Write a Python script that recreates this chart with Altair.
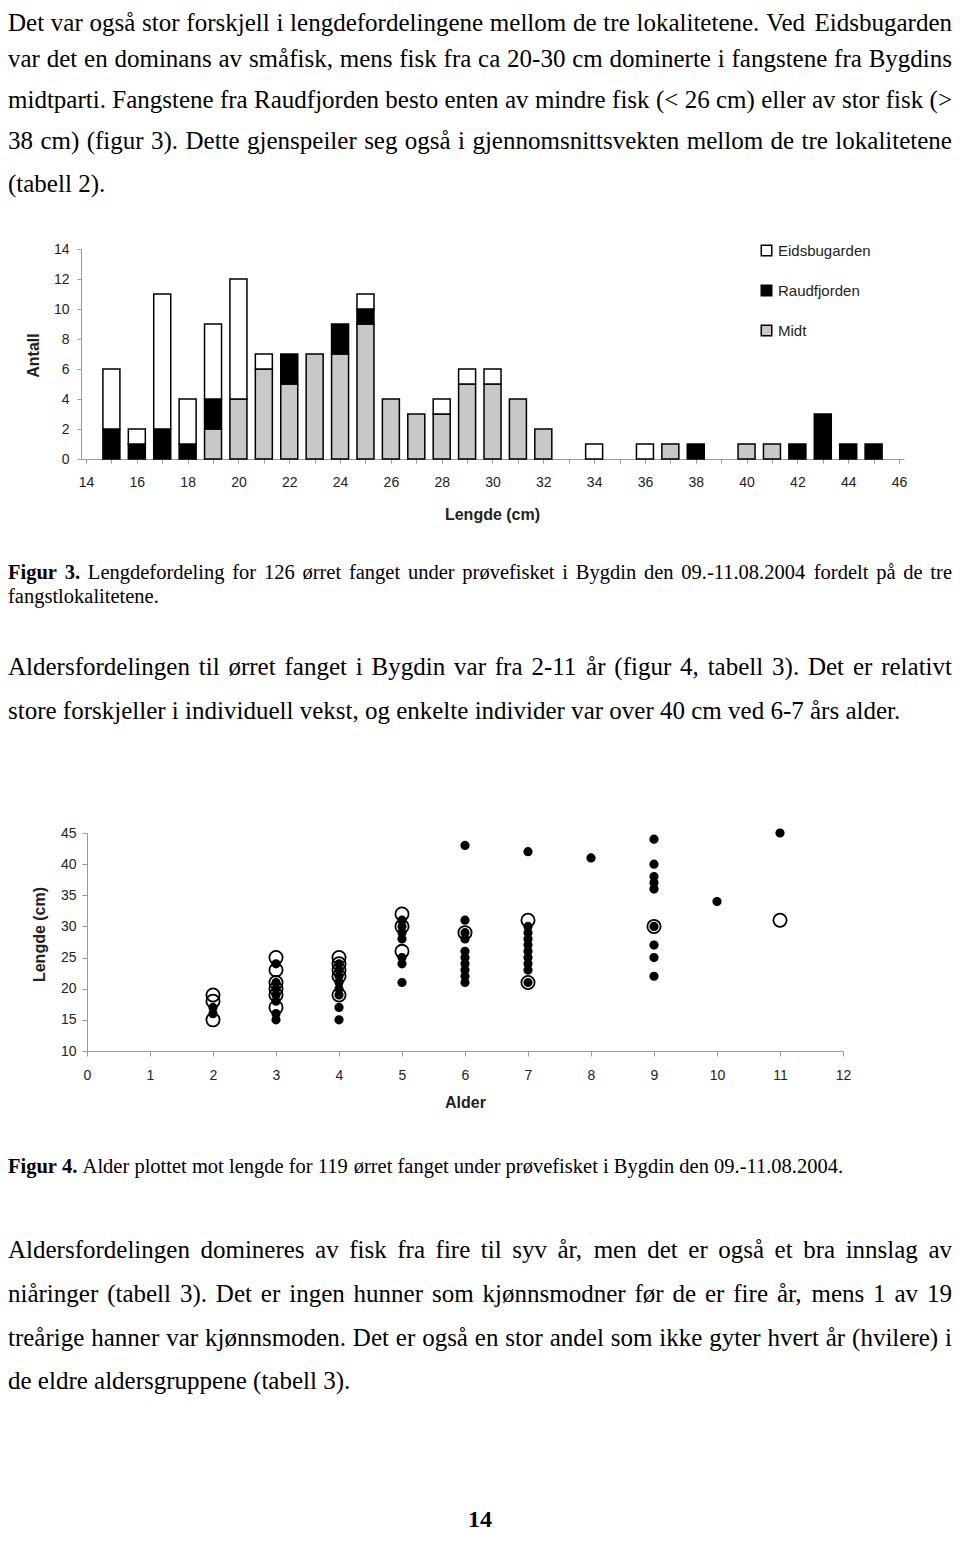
import altair as alt
import pandas as pd

# ------------------------------------------------------------------ data
# Figure 3: length distribution (cm) per locality
lengths = list(range(15, 46))
eidsbugarden = [4, 1, 9, 3, 5, 8, 1, 0, 0, 0, 1, 0, 0, 1, 1, 1, 0, 0, 0, 1, 0, 1, 0, 0, 0, 0, 0, 0, 0, 0, 0]
raudfjorden = [2, 1, 2, 1, 2, 0, 0, 2, 0, 2, 1, 0, 0, 0, 0, 0, 0, 0, 0, 0, 0, 0, 0, 1, 0, 0, 0, 1, 3, 1, 1]
midt = [0, 0, 0, 0, 2, 4, 6, 5, 7, 7, 9, 4, 3, 3, 5, 5, 4, 2, 0, 0, 0, 0, 1, 0, 0, 1, 1, 0, 0, 0, 0]
localities = ["Eidsbugarden", "Raudfjorden", "Midt"]

# Figure 4: age vs length
merket_age = [2, 2, 2, 3, 3, 3, 3, 3, 3, 4, 4, 4, 4, 4, 5, 5, 5, 6, 7, 7, 9, 11]
merket_len = [15, 18, 19, 25, 23, 21, 20, 19, 17, 25, 24, 23, 22, 19, 32, 30, 26, 29, 31, 21, 30, 31]
umerket_age = [2, 2,
               3, 3, 3, 3, 3, 3, 3,
               4, 4, 4, 4, 4, 4, 4, 4,
               5, 5, 5, 5, 5, 5, 5,
               6, 6, 6, 6, 6, 6, 6, 6, 6, 6,
               7, 7, 7, 7, 7, 7, 7, 7, 7, 7,
               8,
               9, 9, 9, 9, 9, 9, 9, 9, 9,
               10, 11]
umerket_len = [16, 17,
               24, 21, 20, 19, 18, 16, 15,
               24, 23, 22, 21, 20, 19, 17, 15,
               31, 30, 29, 28, 25, 24, 21,
               43, 31, 29, 28, 26, 25, 24, 23, 22, 21,
               42, 30, 29, 28, 27, 26, 25, 24, 23, 21,
               41,
               44, 40, 38, 37, 36, 30, 27, 25, 22,
               34, 45]

# Text of the page
para1 = [
    "Det var også stor forskjell i lengdefordelingene mellom de tre lokalitetene. Ved Eidsbugarden",
    "var det en dominans av småfisk, mens fisk fra ca 20-30 cm dominerte i fangstene fra Bygdins",
    "midtparti. Fangstene fra Raudfjorden besto enten av mindre fisk (< 26 cm) eller av stor fisk (>",
    "38 cm) (figur 3). Dette gjenspeiler seg også i gjennomsnittsvekten mellom de tre lokalitetene",
    "(tabell 2).",
]
caption3 = [
    "Figur 3. Lengdefordeling for 126 ørret fanget under prøvefisket i Bygdin den 09.-11.08.2004 fordelt på de tre",
    "fangstlokalitetene.",
]
para2 = [
    "Aldersfordelingen til ørret fanget i Bygdin var fra 2-11 år (figur 4, tabell 3). Det er relativt",
    "store forskjeller i individuell vekst, og enkelte individer var over 40 cm ved 6-7 års alder.",
]
caption4 = [
    "Figur 4. Alder plottet mot lengde for 119 ørret fanget under prøvefisket i Bygdin den 09.-11.08.2004.",
]
para3 = [
    "Aldersfordelingen domineres av fisk fra fire til syv år, men det er også et bra innslag av",
    "niåringer (tabell 3). Det er ingen hunner som kjønnsmodner før de er fire år, mens 1 av 19",
    "treårige hanner var kjønnsmoden. Det er også en stor andel som ikke gyter hvert år (hvilere) i",
    "de eldre aldersgruppene (tabell 3).",
]
page_number = "14"

# ------------------------------------------------------------------ layout helpers
W, H = 944, 1529
OFF = 8  # page margin

TR = {' ': 250, '!': 333, '(': 333, ')': 333, ',': 250, '-': 333, '.': 250, '/': 278, ':': 278,
      ';': 278, '<': 564, '=': 564, '>': 564, '?': 444,
      'A': 722, 'B': 667, 'C': 667, 'D': 722, 'E': 611, 'F': 556, 'G': 722, 'H': 722, 'I': 333,
      'J': 389, 'K': 722, 'L': 611, 'M': 889, 'N': 722, 'O': 722, 'P': 556, 'Q': 722, 'R': 667,
      'S': 556, 'T': 611, 'U': 722, 'V': 722, 'W': 944, 'X': 722, 'Y': 722, 'Z': 611,
      'a': 444, 'b': 500, 'c': 444, 'd': 500, 'e': 444, 'f': 333, 'g': 500, 'h': 500, 'i': 278,
      'j': 278, 'k': 500, 'l': 278, 'm': 778, 'n': 500, 'o': 500, 'p': 500, 'q': 500, 'r': 333,
      's': 389, 't': 278, 'u': 500, 'v': 500, 'w': 722, 'x': 500, 'y': 500, 'z': 444,
      'å': 444, 'ø': 500, 'æ': 667}
TB = {' ': 250, '.': 250, 'F': 611, 'i': 278, 'g': 500, 'u': 556, 'r': 444}


def word_w(w, bold, fs):
    tbl = TB if bold else TR
    return sum(tbl.get(c, 500) for c in w) / 1000.0 * fs


def lay_lines(lines, ys, fs, justify_last=False, x0=0.0, x1=float(W)):
    rows = []
    for i, (line, y) in enumerate(zip(lines, ys)):
        words = line.split(" ")
        bold = [False] * len(words)
        if words[0] == "Figur":
            bold[0] = True
            bold[1] = True
        widths = [word_w(w, b, fs) for w, b in zip(words, bold)]
        last = (i == len(lines) - 1)
        justify = (not last) or justify_last
        if justify and len(words) > 1:
            gap = (x1 - x0 - sum(widths)) / (len(words) - 1)
        else:
            gap = 0.25 * fs
        x = x0
        for w, b, wd in zip(words, bold, widths):
            rows.append(dict(x=x, y=y - OFF, t=w, bold=b, fs=fs))
            x += wd + gap
    return rows


FS_BODY = 25
FS_CAP = 20.5
rows = []
rows += lay_lines(para1, [23, 59, 100, 141, 184], FS_BODY)
rows += lay_lines(para2, [667, 711], FS_BODY)
rows += lay_lines(para3, [1250, 1294, 1338, 1381], FS_BODY)
rows += lay_lines(caption3, [573, 597], FS_CAP)
rows += lay_lines(caption4, [1167], FS_CAP)
tdf = pd.DataFrame(rows)


def text_layer(df, fs, bold):
    return alt.Chart(df).mark_text(
        align="left", baseline="middle", font="Liberation Serif", fontSize=fs,
        fontWeight="bold" if bold else "normal", color="black"
    ).encode(
        x=alt.X("x:Q", scale=None, axis=None),
        y=alt.Y("y:Q", scale=None, axis=None),
        text="t:N",
    )


body_layer = text_layer(tdf[(tdf.fs == FS_BODY) & (~tdf.bold)], FS_BODY, False)
cap_layer = text_layer(tdf[(tdf.fs == FS_CAP) & (~tdf.bold)], FS_CAP, False)
capb_layer = text_layer(tdf[(tdf.fs == FS_CAP) & (tdf.bold)], FS_CAP, True)
pnum_layer = alt.Chart(pd.DataFrame({"t": [page_number]})).mark_text(
    align="center", baseline="middle", font="Liberation Serif", fontSize=24,
    fontWeight="bold", color="black"
).encode(x=alt.value(472), y=alt.value(1512), text="t:N")

# ------------------------------------------------------------------ figure 3 (stacked bars)
assert len(eidsbugarden) == len(raudfjorden) == len(midt) == len(lengths)
bar_rows = []
for series, name, rank in [(midt, "Midt", 0), (raudfjorden, "Raudfjorden", 1), (eidsbugarden, "Eidsbugarden", 2)]:
    for L, v in zip(lengths, series):
        if v > 0:
            bar_rows.append(dict(Lengde=L, Antall=v, Lokalitet=name, rank=rank))
bdf = pd.DataFrame(bar_rows)

AX_FONT = "Liberation Sans"
axis_common = dict(grid=False, domainColor="#9a9a9a", tickColor="#9a9a9a", labelFont=AX_FONT,
                   labelFontSize=14, labelColor="#222222", titleFont=AX_FONT, titleFontSize=16,
                   titleFontWeight="bold", titleColor="#222222", labelFlush=False, labelOverlap=False,
                   titleBaseline="middle", titleAlign="center", format="d")

bars = alt.Chart(bdf).mark_bar(width=17, stroke="black", strokeWidth=1.5).encode(
    x=alt.X("Lengde:Q",
            scale=alt.Scale(domain=[14, 46], range=[73, 896], nice=False, zero=False),
            axis=alt.Axis(values=list(range(14, 47)),
                          labelExpr="datum.value % 2 == 0 ? datum.label : ''",
                          orient="bottom", offset=451 - H, tickSize=4, labelPadding=12,
                          title="Lengde (cm)", titleX=484, titleY=55, **axis_common)),
    y=alt.Y("Antall:Q", stack="zero",
            scale=alt.Scale(domain=[0, 14], range=[451, 241], nice=False),
            axis=alt.Axis(values=list(range(0, 15, 2)), orient="left", offset=-73, tickSize=4,
                          labelPadding=8, title="Antall", titleX=-48, titleY=347, titleAngle=270,
                          **axis_common)),
    color=alt.Color("Lokalitet:N",
                    scale=alt.Scale(domain=localities, range=["white", "black", "#c8c8c8"]),
                    legend=alt.Legend(title=None, orient="none", legendX=751, legendY=235,
                                      symbolType="square", symbolSize=110, symbolStrokeColor="black",
                                      symbolStrokeWidth=1.5, labelFont=AX_FONT, labelFontSize=15,
                                      labelColor="#222222", rowPadding=23, labelOffset=4, padding=0)),
    order=alt.Order("rank:Q"),
)

# ------------------------------------------------------------------ figure 4 (scatter)
sdf = pd.concat([
    pd.DataFrame({"Alder": merket_age, "Lengde": merket_len, "Type": "Merket"}),
    pd.DataFrame({"Alder": umerket_age, "Lengde": umerket_len, "Type": "Umerket"}),
], ignore_index=True)

scatter = alt.Chart(sdf).mark_point(shape="circle", filled=True, stroke="black", strokeWidth=1.8,
                                    opacity=1, fillOpacity=1).encode(
    x=alt.X("Alder:Q",
            scale=alt.Scale(domain=[0, 12], range=[79, 835], nice=False, zero=False),
            axis=alt.Axis(values=list(range(0, 13)), orient="bottom", offset=1043 - H, tickSize=5,
                          labelPadding=12, title="Alder", titleX=457, titleY=51, **axis_common)),
    y=alt.Y("Lengde:Q",
            scale=alt.Scale(domain=[10, 45], range=[1043, 825], nice=False, zero=False),
            axis=alt.Axis(values=list(range(10, 46, 5)), orient="left", offset=-79, tickSize=5,
                          labelPadding=6, title="Lengde (cm)", titleX=-48, titleY=926,
                          titleAngle=270, **axis_common)),
    fill=alt.Fill("Type:N",
                  scale=alt.Scale(domain=["Merket", "Umerket"], range=["transparent", "black"]),
                  legend=alt.Legend(title=None, orient="none", legendX=847, legendY=804, padding=6,
                                    strokeColor="#c4c4c4", symbolType="circle", symbolSize=50,
                                    symbolStrokeColor="black", symbolStrokeWidth=1.5,
                                    labelFont=AX_FONT, labelFontSize=15, labelColor="#222222",
                                    rowPadding=14, labelOffset=6)),
    size=alt.Size("Type:N",
                  scale=alt.Scale(domain=["Merket", "Umerket"], range=[175, 55]),
                  legend=None),
)

chart = alt.layer(
    body_layer, cap_layer, capb_layer, pnum_layer, bars, scatter
).resolve_scale(
    x="independent", y="independent", color="independent", fill="independent", size="independent"
).properties(
    width=W, height=H, autosize=alt.AutoSizeParams(type="none"), padding=0,
    background="white"
).configure_view(stroke=None)

chart.save("out.html", embed_options={"renderer": "svg", "actions": False})
